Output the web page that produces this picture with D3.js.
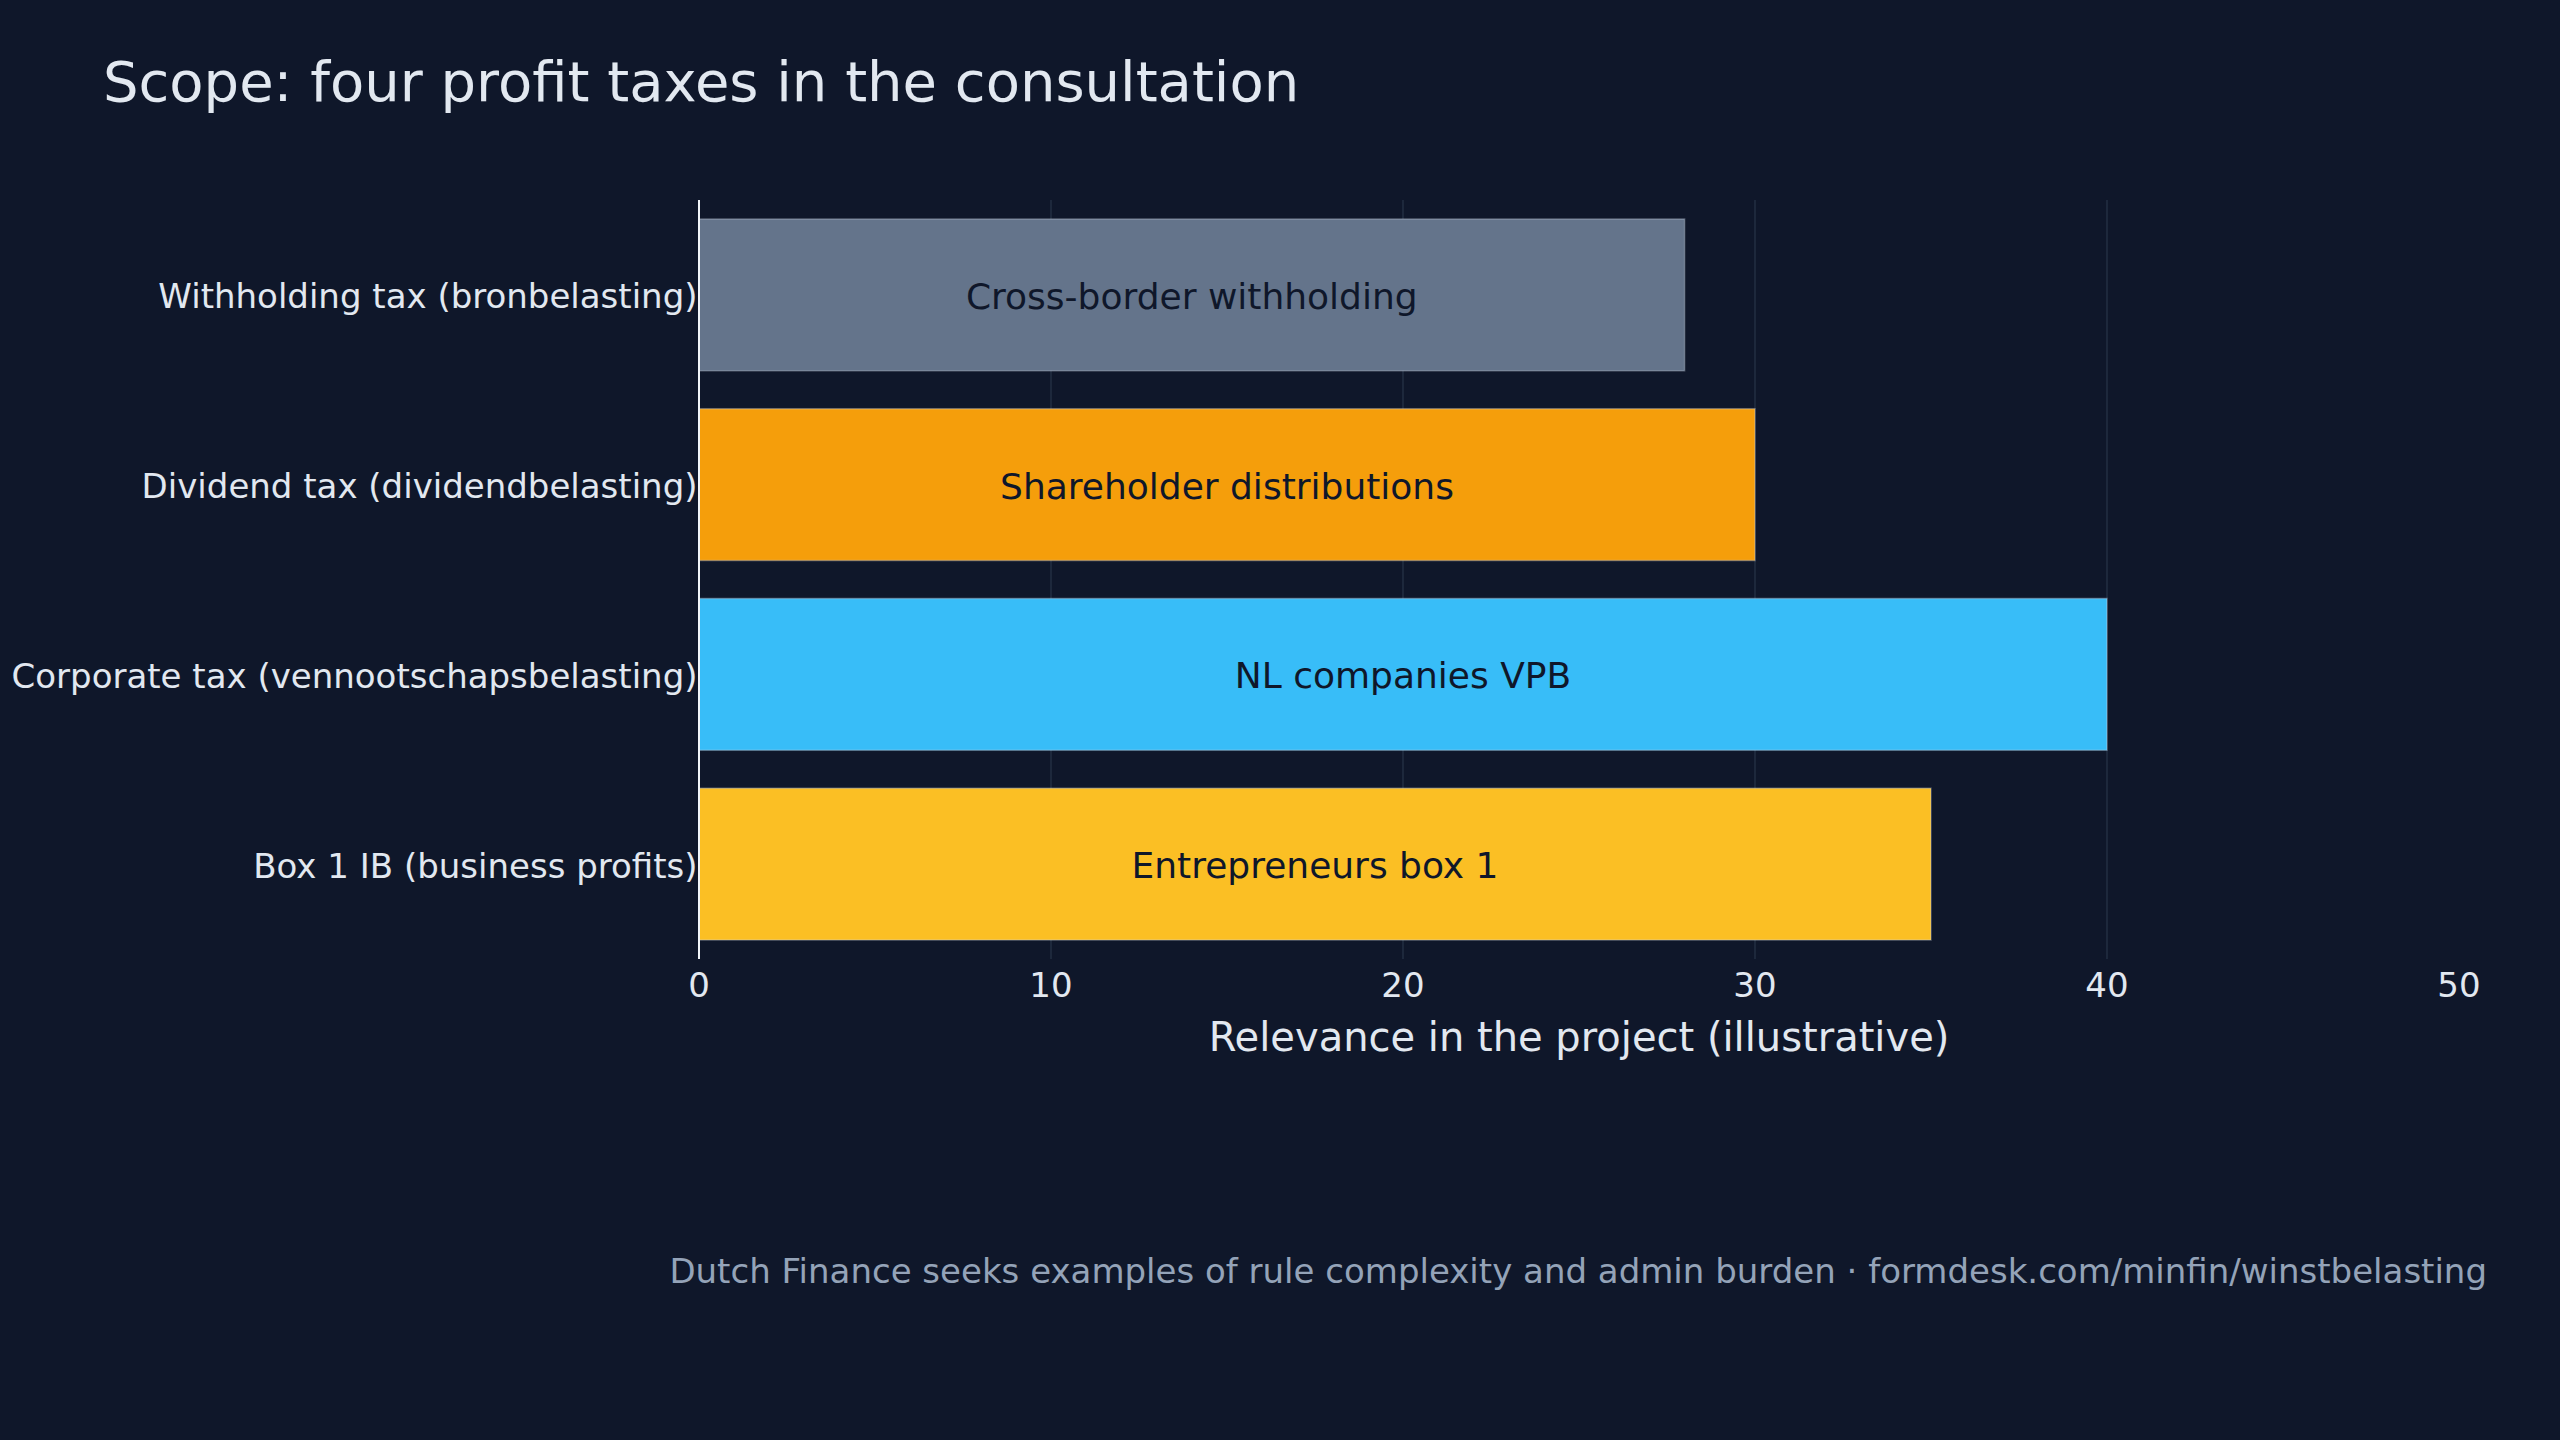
<!DOCTYPE html>
<html lang="en">
  <head>
    <meta charset="utf-8">
    <title>Scope: four profit taxes</title>
    <script src="https://cdn.jsdelivr.net/npm/d3@7/dist/d3.min.js"></script>
    <style>
      html, body { margin: 0; padding: 0; background: #0f172a; }
      svg text { font-family: "DejaVu Sans", sans-serif; }
    </style>
  </head>
  <body>
    <div id="chart"></div>
  </body>
</html>

<script>

// data, top to bottom
const taxes = [
  "Withholding tax (bronbelasting)",
  "Dividend tax (dividendbelasting)",
  "Corporate tax (vennootschapsbelasting)",
  "Box 1 IB (business profits)"
];
const relevance = [28, 30, 40, 35];
const barLabels = [
  "Cross-border withholding",
  "Shareholder distributions",
  "NL companies VPB",
  "Entrepreneurs box 1"
];
const barColors = ["#64748b", "#f59e0b", "#38bdf8", "#fbbf24"];
const xTicks = [0, 10, 20, 30, 40, 50];

const width = 2560;
const height = 1440;
const margin = { top: 200, right: 101, bottom: 481, left: 699 };

const rows = taxes.map((t, i) => ({ tax: t, value: relevance[i], label: barLabels[i], color: barColors[i] }));

const svg = d3.select("#chart")
  .append("svg")
  .attr("width", width)
  .attr("height", height)
  .style("background", "#0f172a");

const x = d3.scaleLinear()
  .domain([0, 50])
  .range([margin.left, width - margin.right]);

const y = d3.scaleBand()
  .domain(taxes)
  .range([margin.top, height - margin.bottom])
  .paddingInner(0.2)
  .paddingOuter(0.1);

// vertical grid
svg.append("g")
  .selectAll("line")
  .data(xTicks.filter(d => d > 0 && d < 50))
  .join("line")
  .attr("x1", d => x(d))
  .attr("x2", d => x(d))
  .attr("y1", margin.top)
  .attr("y2", height - margin.bottom)
  .style("stroke", "#334155")
  .style("stroke-opacity", 0.7)
  .style("stroke-width", 1.2);

// bars
svg.append("g")
  .selectAll("rect")
  .data(rows)
  .join("rect")
  .attr("x", x(0))
  .attr("y", d => y(d.tax))
  .attr("width", d => x(d.value) - x(0))
  .attr("height", y.bandwidth())
  .style("fill", d => d.color)
  .style("stroke", "#cbd5e1")
  .style("stroke-opacity", 0.35)
  .style("stroke-width", 1.5);

// labels inside bars
svg.append("g")
  .selectAll("text")
  .data(rows)
  .join("text")
  .attr("x", d => x(d.value / 2))
  .attr("y", d => y(d.tax) + y.bandwidth() / 2 + 1.5)
  .attr("dy", "0.35em")
  .attr("text-anchor", "middle")
  .style("font-size", "36px")
  .style("fill", "#0f172a")
  .text(d => d.label);

// left spine
svg.append("line")
  .attr("x1", x(0))
  .attr("x2", x(0))
  .attr("y1", margin.top)
  .attr("y2", height - margin.bottom)
  .style("stroke", "#f1f5f9")
  .style("stroke-width", 2);

// y labels
svg.append("g")
  .selectAll("text")
  .data(taxes)
  .join("text")
  .attr("x", x(0) - 1.5)
  .attr("y", d => y(d) + y.bandwidth() / 2 + 1.5)
  .attr("dy", "0.35em")
  .attr("text-anchor", "end")
  .style("font-size", "34px")
  .style("fill", "#e2e8f0")
  .text(d => d);

// x tick labels
svg.append("g")
  .selectAll("text")
  .data(xTicks)
  .join("text")
  .attr("x", d => x(d))
  .attr("y", 985)
  .attr("dy", "0.35em")
  .attr("text-anchor", "middle")
  .style("font-size", "34px")
  .style("fill", "#e2e8f0")
  .text(d => d);

// x axis title
svg.append("text")
  .attr("x", (x(0) + x(50)) / 2)
  .attr("y", 1037)
  .attr("dy", "0.35em")
  .attr("text-anchor", "middle")
  .style("font-size", "40px")
  .style("fill", "#e2e8f0")
  .text("Relevance in the project (illustrative)");

// title
svg.append("text")
  .attr("x", 103)
  .attr("y", 101)
  .style("font-size", "56px")
  .style("fill", "#e2e8f0")
  .text("Scope: four profit taxes in the consultation");

// footer
svg.append("text")
  .attr("x", 2487)
  .attr("y", 1283)
  .attr("text-anchor", "end")
  .style("font-size", "34px")
  .style("fill", "#94a3b8")
  .text("Dutch Finance seeks examples of rule complexity and admin burden · formdesk.com/minfin/winstbelasting");

</script>
